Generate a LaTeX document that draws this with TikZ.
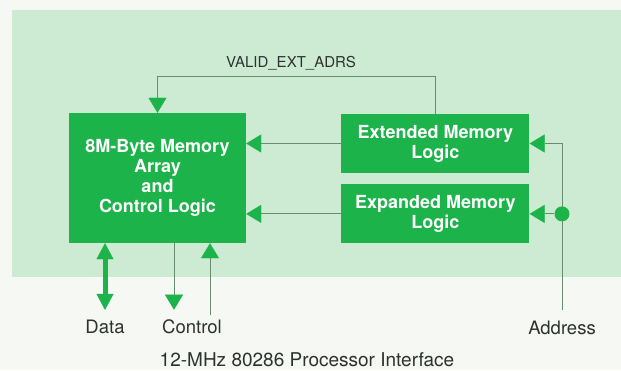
\documentclass[tikz,border=0pt]{standalone}
\usepackage{fontspec}
\setmainfont{TeX Gyre Heros}
\usepackage{xcolor}
\usepackage{tikz}
\usetikzlibrary{arrows.meta, positioning}

\definecolor{boardgreen}{RGB}{205,235,210}
\definecolor{logicgreen}{RGB}{28,180,74}
\definecolor{wiregrey}{RGB}{104,140,112}
\definecolor{paper}{RGB}{245,248,243}
\definecolor{inkgrey}{RGB}{45,50,47}

\begin{document}
\begin{tikzpicture}[
    x=1pt, y=1pt,
    node distance=11pt,
    membox/.style={
        rectangle,
        fill=logicgreen,
        text=white,
        align=center,
        inner sep=0pt,
        font=\fontsize{18}{20}\selectfont\bfseries
    },
    sigtext/.style={text=inkgrey, inner sep=0pt, font=\fontsize{18.5}{20}\selectfont},
    wire/.style={draw=wiregrey, line width=1pt,
        -{Triangle[length=15pt, width=18pt, color=logicgreen, line width=0.4pt]}},
    bus/.style={draw=logicgreen, line width=5pt,
        {Triangle[length=16pt, width=17pt, line width=0.4pt]}-{Triangle[length=16pt, width=17pt, line width=0.4pt]}}
]

\fill[paper] (0,0) rectangle (621,370);
\fill[boardgreen] (12,93) rectangle (621,360);

\node[membox, minimum width=177pt, minimum height=130pt] (memory) at (157.5,192) {
    8M-Byte Memory\\Array\\and\\Control Logic
};

\node[membox, minimum width=188pt, minimum height=59pt, below right=1pt and 95pt of memory.north east] (extended) {
    Extended Memory\\Logic
};

\node[membox, minimum width=188pt, minimum height=59pt, below=of extended] (expanded) {
    Expanded Memory\\Logic
};

\node[sigtext, font=\fontsize{15}{17}\selectfont] (valid) at (291,307) {VALID\_EXT\_ADRS};
\node[sigtext] (data) at (105,43) {Data};
\node[sigtext] (control) at (192,43) {Control};
\node[sigtext] (address) at (562,42) {Address};
\node[sigtext, font=\fontsize{19}{21}\selectfont] (caption) at (307,10) {12-MHz 80286 Processor Interface};

\coordinate (dataend) at ([yshift=10pt]data.north);
\coordinate (ctlout) at ([xshift=-18pt, yshift=10pt]control.north);
\coordinate (ctlin) at ([xshift=18pt, yshift=5pt]control.north);
\coordinate (addrend) at ([yshift=11pt]address.north);

\draw[wire] (extended.west) -- (extended.west -| memory.east);
\draw[wire] (expanded.west) -- (expanded.west -| memory.east);
\draw[wire] (extended.north) -- ++(0,37) -| (memory.north);
\draw[wire] (addrend) |- (extended.east);

\node[circle, fill=logicgreen, minimum size=15pt, inner sep=0pt] (tap) at (addrend |- expanded.east) {};
\draw[wire] (tap) -- (expanded.east);

\draw[bus] (dataend |- memory.south) -- (dataend);
\draw[wire] (ctlout |- memory.south) -- (ctlout);
\draw[wire] (ctlin) -- (ctlin |- memory.south);

\end{tikzpicture}
\end{document}
